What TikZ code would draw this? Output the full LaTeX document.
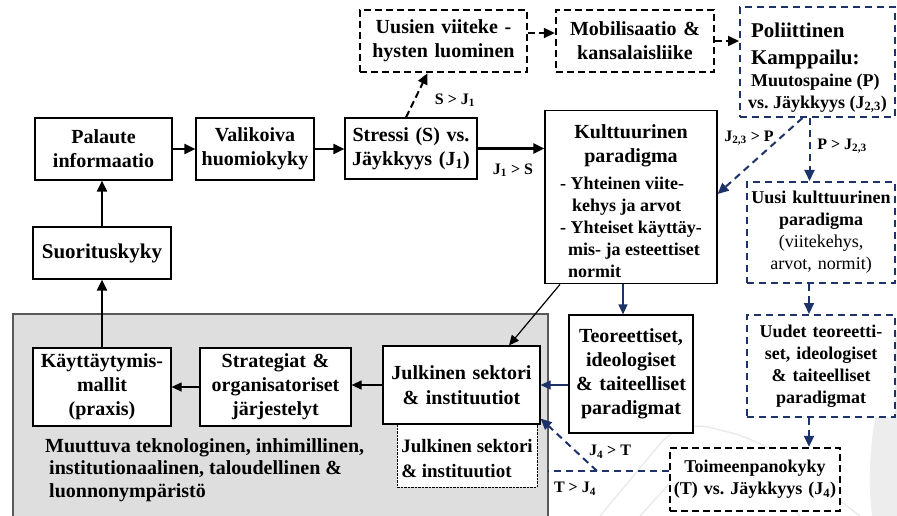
\documentclass[tikz,border=0pt]{standalone}
\usepackage{fontspec}
\setmainfont{Liberation Serif}
\usetikzlibrary{arrows.meta}
\definecolor{navyline}{RGB}{28,50,105}
\newcommand{\fbig}{\fontsize{20}{24}\selectfont\bfseries}
\newcommand{\fmid}{\fontsize{18}{22}\selectfont\bfseries}
\newcommand{\flbl}{\fontsize{16}{18}\selectfont\bfseries}

\begin{document}
\begin{tikzpicture}[x=1pt,y=-1pt,
  box/.style={draw, line width=1.2pt, fill=white, inner sep=0pt, align=center, font=\fbig},
  dbox/.style={box, line width=2.4pt, dash pattern=on 7pt off 4pt},
  bbox/.style={box, draw=navyline, line width=2pt, dash pattern=on 7pt off 5pt, font=\fmid},
  arr/.style={line width=2pt, -{Triangle[length=11pt,width=10pt]}},
  thinarr/.style={line width=1.2pt, -{Triangle[length=10pt,width=9pt]}},
  bthin/.style={thinarr, navyline},
  dblk/.style={arr, dash pattern=on 7pt off 4pt},
  dblue/.style={arr, navyline, dash pattern=on 7pt off 5pt},
  lbl/.style={font=\flbl, inner sep=0pt}]

\useasboundingbox (0,0) rectangle (897,516);
\fill[white] (0,0) rectangle (897,516);

\fill[black!7] (897,330) .. controls (875,400) and (865,460) .. (872,516) -- (897,516) -- cycle;
\draw[black!9, line width=1.2pt, rounded corners=30pt] (600,516) -- (680,420) -- (760,440) -- (860,516);
\draw[black!9, line width=1.2pt, rounded corners=25pt] (640,516) -- (700,450) -- (745,460) -- (800,516);

\node[draw=black!65, line width=1.5pt, fill=black!13, minimum width=535pt, minimum height=215pt, inner sep=0pt, anchor=north west] (env) at (12,313) {};
\node[anchor=west, align=left, font=\fbig, inner sep=0pt] (envtxt) at (45,470) {Muuttuva teknologinen, inhimillinen,\\[-1.5pt]\hspace*{4pt}institutionaalinen, taloudellinen \&\\[-1.5pt]\hspace*{4pt}luonnonympäristö};

\node[box, text width=137pt, minimum height=62pt] (pal) at (103.5,149) {Palaute\\informaatio};
\node[box, text width=118pt, minimum height=62pt] (val) at (255,149) {Valikoiva\\huomiokyky};
\node[box, text width=132pt, minimum height=61pt] (str) at (411,148.5) {Stressi (S) vs.\\Jäykkyys (J\textsubscript{1})};
\node[box, text width=138pt, minimum height=52pt, font=\fontsize{21}{24}\selectfont\bfseries] (suo) at (102,253) {Suorituskyky};
\node[dbox, text width=167pt, minimum height=62pt] (uvl) at (443.5,41) {Uusien viiteke -\\hysten luominen};
\node[dbox, text width=158pt, minimum height=62pt] (mob) at (635,41) {Mobilisaatio \&\\kansalaisliike};
\node[bbox, align=left, minimum width=155pt, minimum height=110pt] (pol) at (817.5,62) {{\fontsize{21}{24}\selectfont\rule{0pt}{26pt}\hspace*{3pt}Poliittinen}\\[5pt]{\fontsize{21}{24}\selectfont\hspace*{3pt}Kamppailu:}\\\hspace*{3pt}Muutospaine (P)\\vs.\ Jäykkyys (J\textsubscript{2,3})};
\node[box, minimum width=172pt, minimum height=172pt] (kul) at (631,197) {\rule{0pt}{28pt}Kulttuurinen\\paradigma\\[3pt]\fmid\begin{tabular}[t]{@{}l@{}}- Yhteinen viite-\\\hspace*{12pt}kehys ja arvot\\- Yhteiset käyttäy-\\\hspace*{8pt}mis- ja esteettiset\\\hspace*{8pt}normit\end{tabular}};
\node[bbox, text width=148pt, minimum height=101pt] (ukp) at (821,232.5) {Uusi kulttuurinen\\paradigma\\\mdseries (viitekehys,\\arvot, normit)};
\node[bbox, text width=148pt, minimum height=102pt] (utp) at (821,366) {Uudet teoreetti-\\set, ideologiset\\\& taiteelliset\\paradigmat};
\node[dbox, font=\fmid, text width=170pt, minimum height=63pt] (toi) at (755,479.5) {Toimeenpanokyky\\(T) vs.\ Jäykkyys (J\textsubscript{4})};
\node[box, text width=124pt, minimum height=118pt] (teo) at (631,374) {Teoreettiset,\\ideologiset\\\& taiteelliset\\paradigmat};

\node[draw, line width=1pt, dash pattern=on 2.5pt off 1pt, fill=white, minimum width=140pt, minimum height=63pt, inner sep=0pt, align=left, font=\fontsize{19}{22}\selectfont\bfseries] (julb) at (467,455.5) {\rule{0pt}{19pt}Julkinen sektori\\[3pt]\& instituutiot};
\node[box, text width=138pt, minimum height=78pt] (kay) at (102,387) {Käyttäytymis-\\mallit\\(praxis)};
\node[box, text width=151pt, minimum height=78pt] (stra) at (275.5,387) {Strategiat \&\\organisatoriset\\järjestelyt};
\node[box, text width=157pt, minimum height=78pt] (jul) at (461.5,385) {Julkinen sektori\\[1pt]\& instituutiot};

\draw[arr] (pal.east) -- (pal.east -| val.west);
\draw[arr] (val.east) -- (val.east -| str.west);
\draw[arr, line width=2.5pt] (str.east) -- (str.east -| kul.west);
\draw[dblk] ([xshift=-5pt]str.north) -- ([xshift=-16pt]uvl.south);
\draw[dblk] ([yshift=8pt]uvl.east) -- ([yshift=8pt]uvl.east -| mob.west);
\draw[dblk] (mob.east) -- (mob.east -| pol.west);
\draw[dblue] ([xshift=-15pt]pol.south) -- ([yshift=3pt]kul.east);
\draw[dblue] ([xshift=-8pt]pol.south) -- ([xshift=-8pt]pol.south |- ukp.north);
\draw[dblue] ([xshift=-12pt]ukp.south) -- ([xshift=-12pt]utp.north);
\draw[dblue] ([xshift=-12pt]utp.south) -- ([xshift=-12pt]utp.south |- toi.north);
\coordinate (tend) at (548,471);
\coordinate (tfork) at (597,471);
\draw[navyline, line width=2pt, dash pattern=on 7pt off 5pt] ([yshift=8.5pt]toi.west) -- (tend);
\draw[dblue] (tfork) -- ([yshift=6pt]jul.south east);
\draw[bthin] ([xshift=-8pt]kul.south) -- ([xshift=-8pt]teo.north);
\draw[thinarr] ([xshift=-71pt]kul.south) -- ([xshift=47.5pt]jul.north);
\draw[bthin] (teo.west |- jul.east) -- (jul.east);
\draw[thinarr] (jul.west) -- (jul.west -| stra.east);
\draw[thinarr] (stra.west) -- (stra.west -| kay.east);
\draw[arr] (kay.north) -- (suo.south);
\draw[arr] (suo.north) -- (suo.north |- pal.south);

\node[lbl] (sj1) at (455,100) {S > J\textsubscript{1}};
\node[lbl] (j1s) at (513,170) {J\textsubscript{1} > S};
\node[lbl] (j23p) at (749,138) {J\textsubscript{2,3} > P};
\node[lbl] (pj23) at (842,146) {P > J\textsubscript{2,3}};
\node[lbl] (j4t) at (610,452) {J\textsubscript{4} > T};
\node[lbl] (tj4) at (575,489) {T > J\textsubscript{4}};
\end{tikzpicture}
\end{document}
